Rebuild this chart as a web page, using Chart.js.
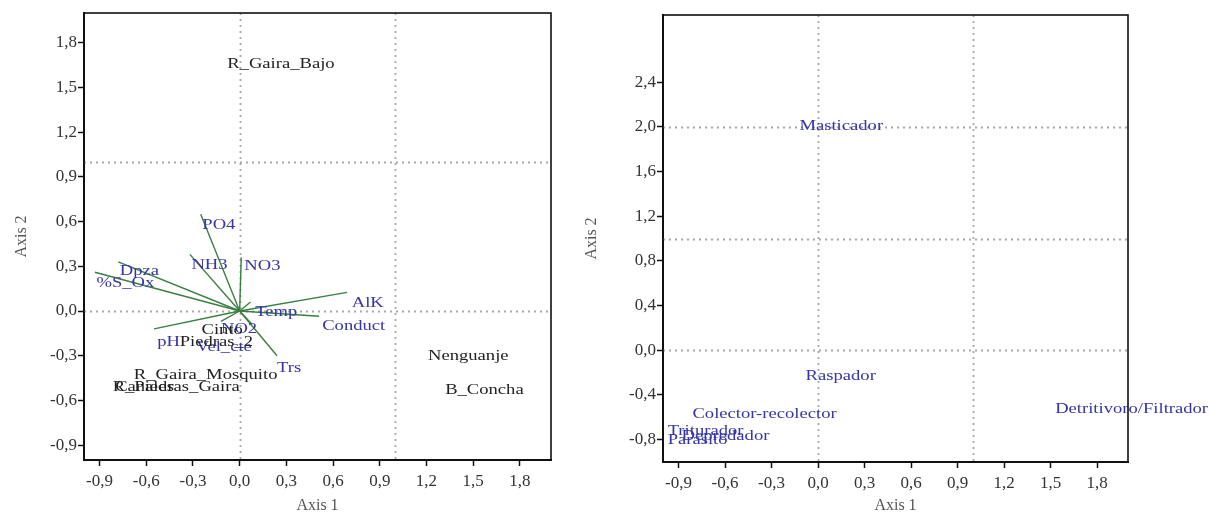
<!DOCTYPE html>
<html>
<head>
<meta charset="utf-8">
<script src="https://cdn.jsdelivr.net/npm/chart.js@4/dist/chart.umd.min.js"></script>
<style>
  html, body { margin: 0; padding: 0; background: #fff; }
  body { width: 1210px; height: 515px; position: relative; overflow: hidden; }
  .panel { position: absolute; top: 0; height: 515px; }
  #left { left: 0; width: 600px; }
  #right { left: 570px; width: 640px; }
</style>
</head>
<body>
<div class="panel" id="left"><canvas id="envChart" width="600" height="515"></canvas></div>
<div class="panel" id="right"><canvas id="groupChart" width="640" height="515"></canvas></div>
<script>
// tick values
const ticksAxis1 = [-0.9, -0.6, -0.3, 0.0, 0.3, 0.6, 0.9, 1.2, 1.5, 1.8];
const ticksAxis2Env = [-0.9, -0.6, -0.3, 0.0, 0.3, 0.6, 0.9, 1.2, 1.5, 1.8];
const ticksAxis2Group = [-0.8, -0.4, 0.0, 0.4, 0.8, 1.2, 1.6, 2.0, 2.4];
const crossX = [0, 1];
const crossYEnv = [0, 1];
const crossYGroup = [0, 1, 2];

// environmental vectors (biplot arrows)
const envNames = ['PO4', 'NH3', 'NO3', 'Dpza', '%S_Ox', 'AlK', 'Conduct', 'Temp', 'Trs', 'pH', 'Vel_cte', 'NO2'];
const envAxis1 = [-0.25, -0.32, 0.01, -0.78, -0.93, 0.69, 0.51, 0.07, 0.24, -0.55, -0.12, 0.08];
const envAxis2 = [0.65, 0.38, 0.36, 0.33, 0.26, 0.125, -0.035, 0.06, -0.30, -0.12, -0.07, -0.09];
const envLabelAxis1 = [-0.24, -0.31, 0.03, -0.77, -0.92, 0.72, 0.53, 0.10, 0.24, -0.53, -0.28, -0.12];
const envLabelAxis2 = [0.58, 0.31, 0.30, 0.27, 0.19, 0.05, -0.10, -0.01, -0.38, -0.21, -0.245, -0.12];

// sampling sites
const siteNames = ['R_Gaira_Bajo', 'Nenguanje', 'B_Concha', 'R_Gaira_Mosquito', 'Canales', 'R_Piedras_Gaira', 'Piedras_2', 'Cinto'];
const siteAxis1 = [-0.08, 1.21, 1.32, -0.68, -0.80, -0.816, -0.385, -0.245];
const siteAxis2 = [1.66, -0.30, -0.53, -0.43, -0.51, -0.51, -0.21, -0.13];

// functional feeding groups
const groupNames = ['Masticador', 'Raspador', 'Colector-recolector', 'Detritivoro/Filtrador', 'Triturador', 'Parasito', 'Depredador'];
const groupAxis1 = [-0.12, -0.08, -0.81, 1.53, -0.97, -0.97, -0.88];
const groupAxis2 = [2.01, -0.235, -0.57, -0.53, -0.72, -0.80, -0.77];

const SERIF = '"Liberation Serif", "Times New Roman", serif';
const BLUE = '#3535a8';
const INK = '#222';
const ARROW = '#3a7f40';

const pts = (xs, ys) => xs.map((x, i) => ({ x: x, y: ys[i] }));
const fmt = v => Number(v).toFixed(1).replace('.', ',');

// writes the names stored on a dataset at its (invisible) points
const textLabels = {
  id: 'textLabels',
  afterDatasetsDraw(chart) {
    const ctx = chart.ctx;
    chart.data.datasets.forEach((ds, di) => {
      if (!ds.names) return;
      const meta = chart.getDatasetMeta(di);
      ctx.save();
      ctx.font = '15px ' + SERIF;
      ctx.fillStyle = ds.textColor;
      ctx.textAlign = 'left';
      ctx.textBaseline = 'middle';
      meta.data.forEach((el, i) => {
        ctx.save();
        ctx.translate(el.x, el.y);
        ctx.scale(1.24, 1);
        ctx.fillText(ds.names[i], 0, 0);
        ctx.restore();
      });
      ctx.restore();
    });
  }
};

// dotted reference lines and the closed frame
const frame = {
  id: 'frame',
  beforeDatasetsDraw(chart, args, opts) {
    const { ctx, chartArea: a, scales } = chart;
    ctx.save();
    ctx.strokeStyle = '#a8a8a8';
    ctx.lineWidth = 1.8;
    ctx.setLineDash([2, 4]);
    opts.xLines.forEach(v => {
      const px = Math.round(scales.x.getPixelForValue(v)) + 0.5;
      ctx.beginPath(); ctx.moveTo(px, a.top); ctx.lineTo(px, a.bottom); ctx.stroke();
    });
    opts.yLines.forEach(v => {
      const py = Math.round(scales.y.getPixelForValue(v)) + 0.5;
      ctx.beginPath(); ctx.moveTo(a.left, py); ctx.lineTo(a.right, py); ctx.stroke();
    });
    ctx.restore();
  },
  afterDraw(chart) {
    const { ctx, chartArea: a } = chart;
    ctx.save();
    ctx.strokeStyle = '#111';
    ctx.lineWidth = 1.6;
    ctx.strokeRect(a.left, a.top, a.right - a.left, a.bottom - a.top);
    ctx.restore();
  }
};

function axes(yTicks, yMax, yWidth, xHeight) {
  const tickFont = { family: SERIF, size: 17 };
  const titleFont = { family: SERIF, size: 16 };
  return {
    x: {
      type: 'linear', min: -1, max: 2,
      afterBuildTicks: s => { s.ticks = ticksAxis1.map(v => ({ value: v })); },
      afterFit: s => { s.height = xHeight; },
      ticks: { callback: fmt, color: '#333', font: tickFont, padding: 5, autoSkip: false, maxRotation: 0 },
      grid: { drawOnChartArea: false, tickLength: 6, tickColor: '#111', tickWidth: 1.5 },
      border: { color: '#111', width: 2 },
      title: { display: true, text: 'Axis 1', color: '#555', font: titleFont, padding: 0 }
    },
    y: {
      type: 'linear', min: -1, max: yMax,
      afterBuildTicks: s => { s.ticks = yTicks.map(v => ({ value: v })); },
      afterFit: s => { s.width = yWidth; },
      ticks: { callback: fmt, color: '#333', font: tickFont, padding: 1, autoSkip: false },
      grid: { drawOnChartArea: false, tickLength: 6, tickColor: '#111', tickWidth: 1.5 },
      border: { color: '#111', width: 2 },
      title: { display: true, text: 'Axis 2', color: '#555', font: titleFont, padding: { top: 12, bottom: 0 } }
    }
  };
}

const envDatasets = envNames.map((n, i) => ({
  label: n,
  data: [{ x: 0, y: 0 }, { x: envAxis1[i], y: envAxis2[i] }],
  showLine: true,
  borderColor: ARROW,
  borderWidth: 1.4,
  pointRadius: 0
}));
envDatasets.push({
  label: 'variables',
  data: pts(envLabelAxis1, envLabelAxis2),
  names: envNames,
  textColor: BLUE,
  pointRadius: 0
});
envDatasets.push({
  label: 'sites',
  data: pts(siteAxis1, siteAxis2),
  names: siteNames,
  textColor: INK,
  pointRadius: 0
});

new Chart(document.getElementById('envChart'), {
  type: 'scatter',
  data: { datasets: envDatasets },
  options: {
    responsive: false,
    animation: false,
    layout: { padding: { left: 0, top: 13, right: 49, bottom: 0 } },
    scales: axes(ticksAxis2Env, 2, 84, 55),
    plugins: {
      legend: { display: false },
      tooltip: { enabled: false },
      frame: { xLines: crossX, yLines: crossYEnv }
    }
  },
  plugins: [frame, textLabels]
});

new Chart(document.getElementById('groupChart'), {
  type: 'scatter',
  data: {
    datasets: [{
      label: 'groups',
      data: pts(groupAxis1, groupAxis2),
      names: groupNames,
      textColor: BLUE,
      pointRadius: 0
    }]
  },
  options: {
    responsive: false,
    animation: false,
    layout: { padding: { left: 0, top: 15, right: 82, bottom: 0 } },
    scales: axes(ticksAxis2Group, 3, 93, 53),
    plugins: {
      legend: { display: false },
      tooltip: { enabled: false },
      frame: { xLines: crossX, yLines: crossYGroup }
    }
  },
  plugins: [frame, textLabels]
});
</script>
</body>
</html>
